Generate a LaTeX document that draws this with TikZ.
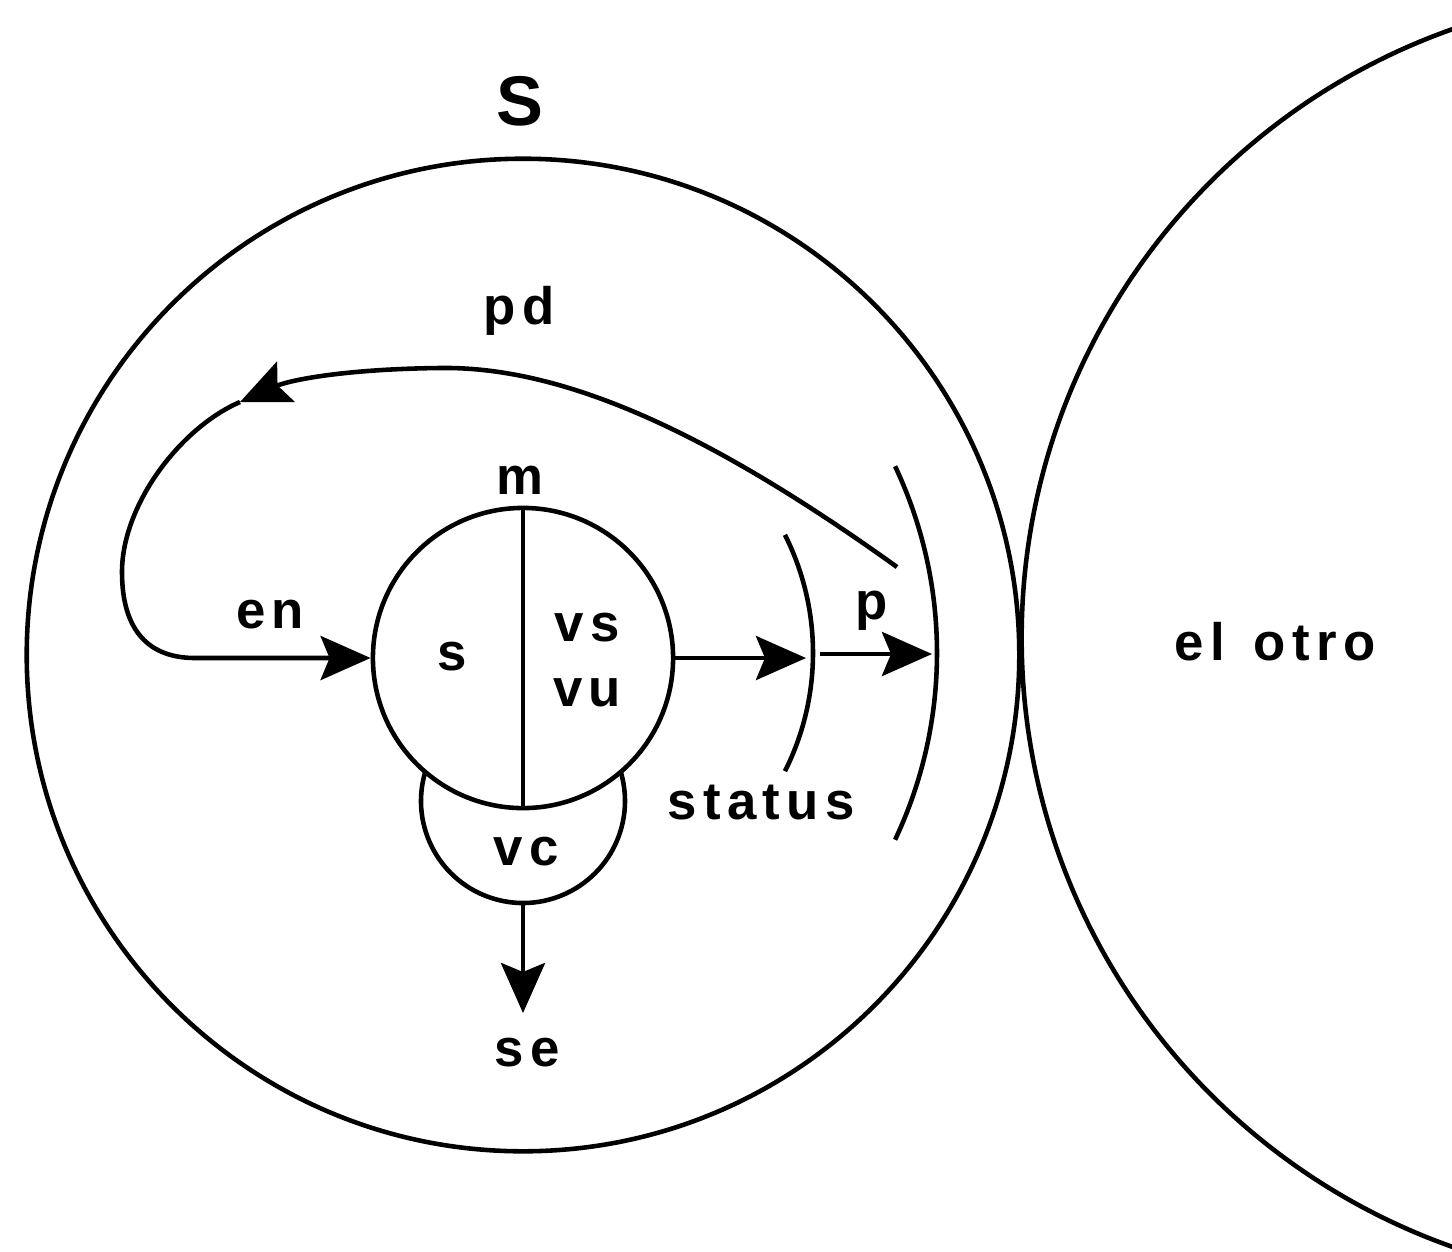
\documentclass[tikz,border=0pt]{standalone}
\usepackage{fontspec}
\setmainfont{Liberation Sans}[LetterSpace=12]
\usetikzlibrary{arrows.meta,calc,positioning}

\begin{document}
\begin{tikzpicture}[x=0.01cm,y=0.01cm,line width=1.3pt,
    >={Stealth[length=5mm,width=4.4mm,inset=0.9mm]},
    lbl/.style={inner sep=0pt,font=\fontsize{15}{18.5}\selectfont\bfseries},
    ring/.style={circle,draw,inner sep=0pt}]
  \useasboundingbox (0,0) rectangle (1452,-1251);
  \clip (0,0) rectangle (1452,-1251);
  % the subject and the other
  \node[ring,minimum size=9.92cm] (self) at (523,-655) {};
  \node[ring,minimum size=12.9cm] (otro) at (1667,-638) {};
  \node[lbl,font=\fontsize{20}{24}\selectfont\bfseries] (sname) at (520,-101) {S};
  \node[lbl] (otroname) at (1275,-642) {el\hspace{0.55em}otro};
  % inner circle, split by m
  \node[ring,minimum size=3cm] (core) at (523,-658) {};
  \draw (core.north) -- (core.south);
  \node[lbl] (m) at (520,-480) {m};
  \node[lbl] (s) at (452,-657) {s};
  \node[lbl,align=center] (vsvu) at (587,-660) {vs\\vu};
  % vc, the part below the inner circle
  \coordinate (vcc) at (523,-801);
  \draw (vcc) ++(163.4:102) arc[start angle=163.4,end angle=376.6,radius=102];
  \node[lbl] (vc) at (526,-852) {vc};
  \coordinate (vcbot) at (523,-903);
  \coordinate (setip) at (523,-1013);
  \draw[->] (vcbot) -- (setip);
  \node[lbl] (se) at (527,-1053) {se};
  % status and p
  \draw (550,-653) ++(-26.7:263) arc[start angle=-26.7,end angle=26.7,radius=263];
  \draw (500,-653) ++(-25.3:437) arc[start angle=-25.3,end angle=25.3,radius=437];
  \coordinate (stat) at (806,-658);
  \coordinate (pstart) at (820,-654);
  \coordinate (ptip) at (932,-654);
  \draw[->] (core.east) -- (stat);
  \draw[->] (pstart) -- (ptip);
  \node[lbl] (status) at (761,-803) {status};
  \node[lbl] (p) at (872,-611) {p};
  % pd loop back to en
  \coordinate (pdstart) at (897,-567);
  \coordinate (pdtip) at (240,-402);
  \draw[->] (pdstart) .. controls (720,-440) and (570,-366) .. (440,-368)
    .. controls (345,-369) and (290,-380) .. (pdtip);
  \draw[->] (pdtip) .. controls (180,-428) and (122,-505) .. (122,-572)
    .. controls (122,-632) and (150,-658) .. (195,-658) -- (core.west);
  \node[lbl] (pd) at (519,-311) {pd};
  \node[lbl] (en) at (270,-615) {en};
\end{tikzpicture}
\end{document}
